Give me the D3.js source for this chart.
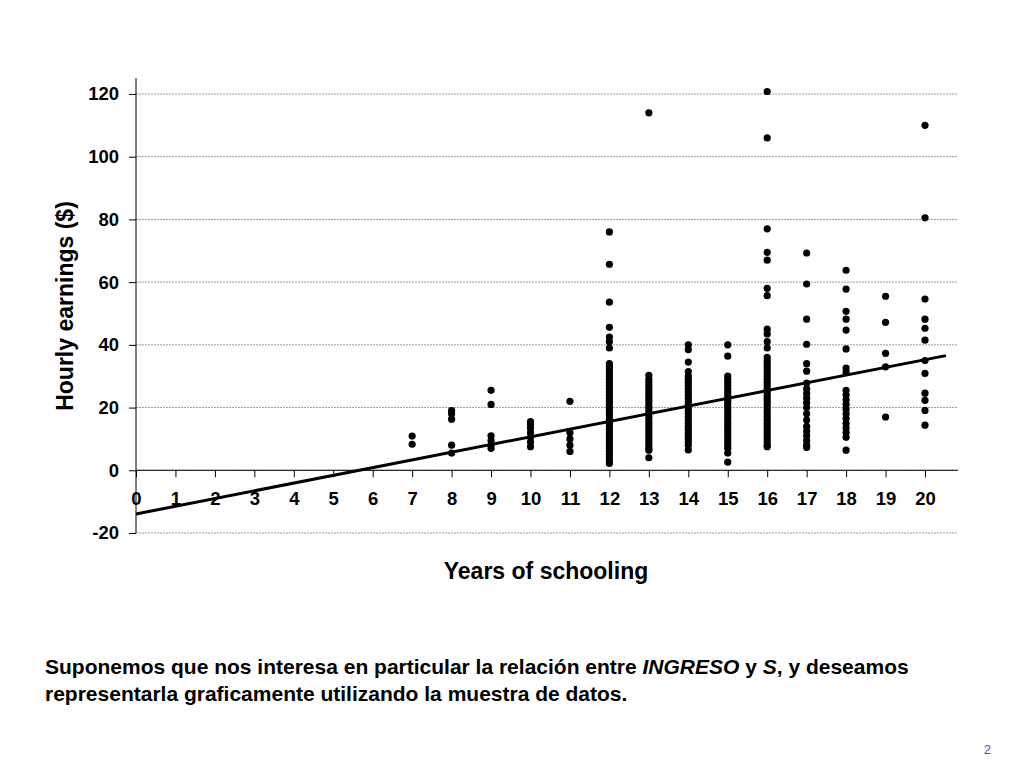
<!DOCTYPE html>
<html><head><meta charset="utf-8">
<script src="https://cdn.jsdelivr.net/npm/d3@7"></script>
<style>body{margin:0;background:#fff;font-family:"Liberation Sans",Arial,sans-serif;}</style>
</head><body>
<svg id="c" width="1024" height="768"></svg>
<script>
// earnings observed at each level of schooling
var s7 = [10.9, 8.3];
var s8 = [19, 18, 16.3, 8, 5.5];
var s9 = [25.5, 21, 11, 9.5, 8, 7];
var s10 = [15.5, 14.5, 13.5, 12, 10.5, 9, 7.5];
var s11 = [22, 12, 10, 8, 6];
var s12 = [76, 65.7, 53.6, 45.6, 42.5, 41, 39, 34, 33, 32, 31, 30, 29, 28, 27, 26, 25, 24, 23, 22, 21, 20, 19, 18, 17, 16, 15, 14, 13, 12, 11, 10, 9, 8, 7, 6, 5, 4, 3, 2.2];
var s13 = [114, 30.3, 29, 28, 27, 26, 25, 24, 23, 22, 21, 20, 19, 18, 17, 16, 15, 14, 13, 12, 11, 10, 9, 8, 7, 6.4, 4];
var s14 = [40, 38.5, 34.5, 31.5, 30, 29, 28, 27, 26, 25, 24, 23, 22, 21, 20, 19, 18, 17, 16, 15, 14, 13, 12, 11, 10, 9, 8, 6.5];
var s15 = [40, 36.4, 30, 29, 28, 27, 26, 25, 24, 23, 22, 21, 20, 19, 18, 17, 16, 15, 14, 13, 12, 11, 10, 9, 8, 7, 5.5, 2.6];
var s16 = [120.8, 106, 77, 69.5, 67, 58, 55.7, 45, 43.5, 41, 39, 36, 35, 34, 33, 32, 31, 30, 29, 28, 27, 26, 25, 24, 23, 22, 21, 20, 19, 18, 17, 16, 15, 14, 13, 12, 11, 10, 9, 8, 7.5];
var s17 = [69.3, 59.4, 48.2, 40.2, 34, 31.6, 27.8, 26, 24.5, 23, 21.5, 20, 18, 16, 14, 12.5, 11, 9.5, 8, 7.3];
var s18 = [63.8, 57.8, 50.7, 48.2, 44.7, 38.7, 32.6, 31.3, 25.5, 24, 22.5, 21, 19.5, 18, 16.5, 15, 13.5, 12, 10.5, 6.4];
var s19 = [55.5, 47.2, 37.3, 33, 17];
var s20 = [110, 80.5, 54.6, 48.2, 45.3, 41.5, 35, 30.9, 24.6, 22.3, 19.1, 14.4];
var schooling = [7, 8, 9, 10, 11, 12, 13, 14, 15, 16, 17, 18, 19, 20];
var earnings = [s7, s8, s9, s10, s11, s12, s13, s14, s15, s16, s17, s18, s19, s20];
var yTicks = [-20, 0, 20, 40, 60, 80, 100, 120];
var xTicks = d3.range(0, 21);
var fit = {intercept: -13.93, slope: 2.46, from: 0, to: 20.53};

var svg = d3.select('#c');
var x = d3.scaleLinear().domain([0, 20]).range([136, 925]);
var y = d3.scaleLinear().domain([-20, 120]).range([533, 94]);

// gridlines
svg.selectAll('.grid').data(yTicks).enter().append('line')
    .attr('x1', x(0)).attr('x2', 958)
    .attr('y1', function(d){return y(d);}).attr('y2', function(d){return y(d);})
    .attr('stroke', '#999').attr('stroke-dasharray', '2,1').attr('stroke-width', 1);

// y axis
var yAxis = d3.axisLeft(y).tickValues(yTicks).tickSize(7).tickPadding(10).tickFormat(function(d){return String(d);});
var gy = svg.append('g').attr('transform', 'translate(' + x(0) + ',0)').call(yAxis);
gy.select('.domain').attr('d', 'M-0,' + y(-20) + 'V' + y(125.1));
gy.selectAll('text').attr('font-size', 18.5).attr('font-weight', 'bold').attr('font-family', 'Liberation Sans, Arial');

// x axis along zero
var xAxis = d3.axisBottom(x).tickValues(xTicks).tickSize(7).tickPadding(15);
var gx = svg.append('g').attr('transform', 'translate(0,' + y(0) + ')').call(xAxis);
gx.select('.domain').attr('d', 'M' + x(0) + ',0H958');
gx.selectAll('text').attr('font-size', 18.5).attr('font-weight', 'bold').attr('font-family', 'Liberation Sans, Arial');

// points
schooling.forEach(function(s, i){
  svg.selectAll(null).data(earnings[i]).enter().append('circle')
    .attr('cx', x(s)).attr('cy', function(d){return y(d);}).attr('r', 3.6).attr('fill', '#000');
});

// regression line
svg.append('line')
  .attr('x1', x(fit.from)).attr('y1', y(fit.intercept + fit.slope * fit.from))
  .attr('x2', x(fit.to)).attr('y2', y(fit.intercept + fit.slope * fit.to))
  .attr('stroke', '#000').attr('stroke-width', 3);

svg.append('text').attr('transform', 'translate(73,306) rotate(-90)').attr('text-anchor', 'middle')
  .attr('font-size', 23).attr('font-weight', 'bold').text('Hourly earnings ($)');
svg.append('text').attr('x', 546).attr('y', 579).attr('text-anchor', 'middle')
  .attr('font-size', 23).attr('font-weight', 'bold').text('Years of schooling');

var t1 = svg.append('text').attr('x', 45).attr('y', 674).attr('font-size', 21).attr('font-weight', 'bold');
t1.append('tspan').text('Suponemos que nos interesa en particular la relación entre ');
t1.append('tspan').attr('font-style', 'italic').text('INGRESO');
t1.append('tspan').text(' y ');
t1.append('tspan').attr('font-style', 'italic').text('S');
t1.append('tspan').text(', y deseamos');
svg.append('text').attr('x', 45).attr('y', 701).attr('font-size', 21).attr('font-weight', 'bold')
  .text('representarla graficamente utilizando la muestra de datos.');
svg.append('text').attr('x', 991).attr('y', 754).attr('text-anchor', 'end').attr('font-size', 13)
  .attr('fill', '#3355cc').text('2');
</script>
</body></html>
